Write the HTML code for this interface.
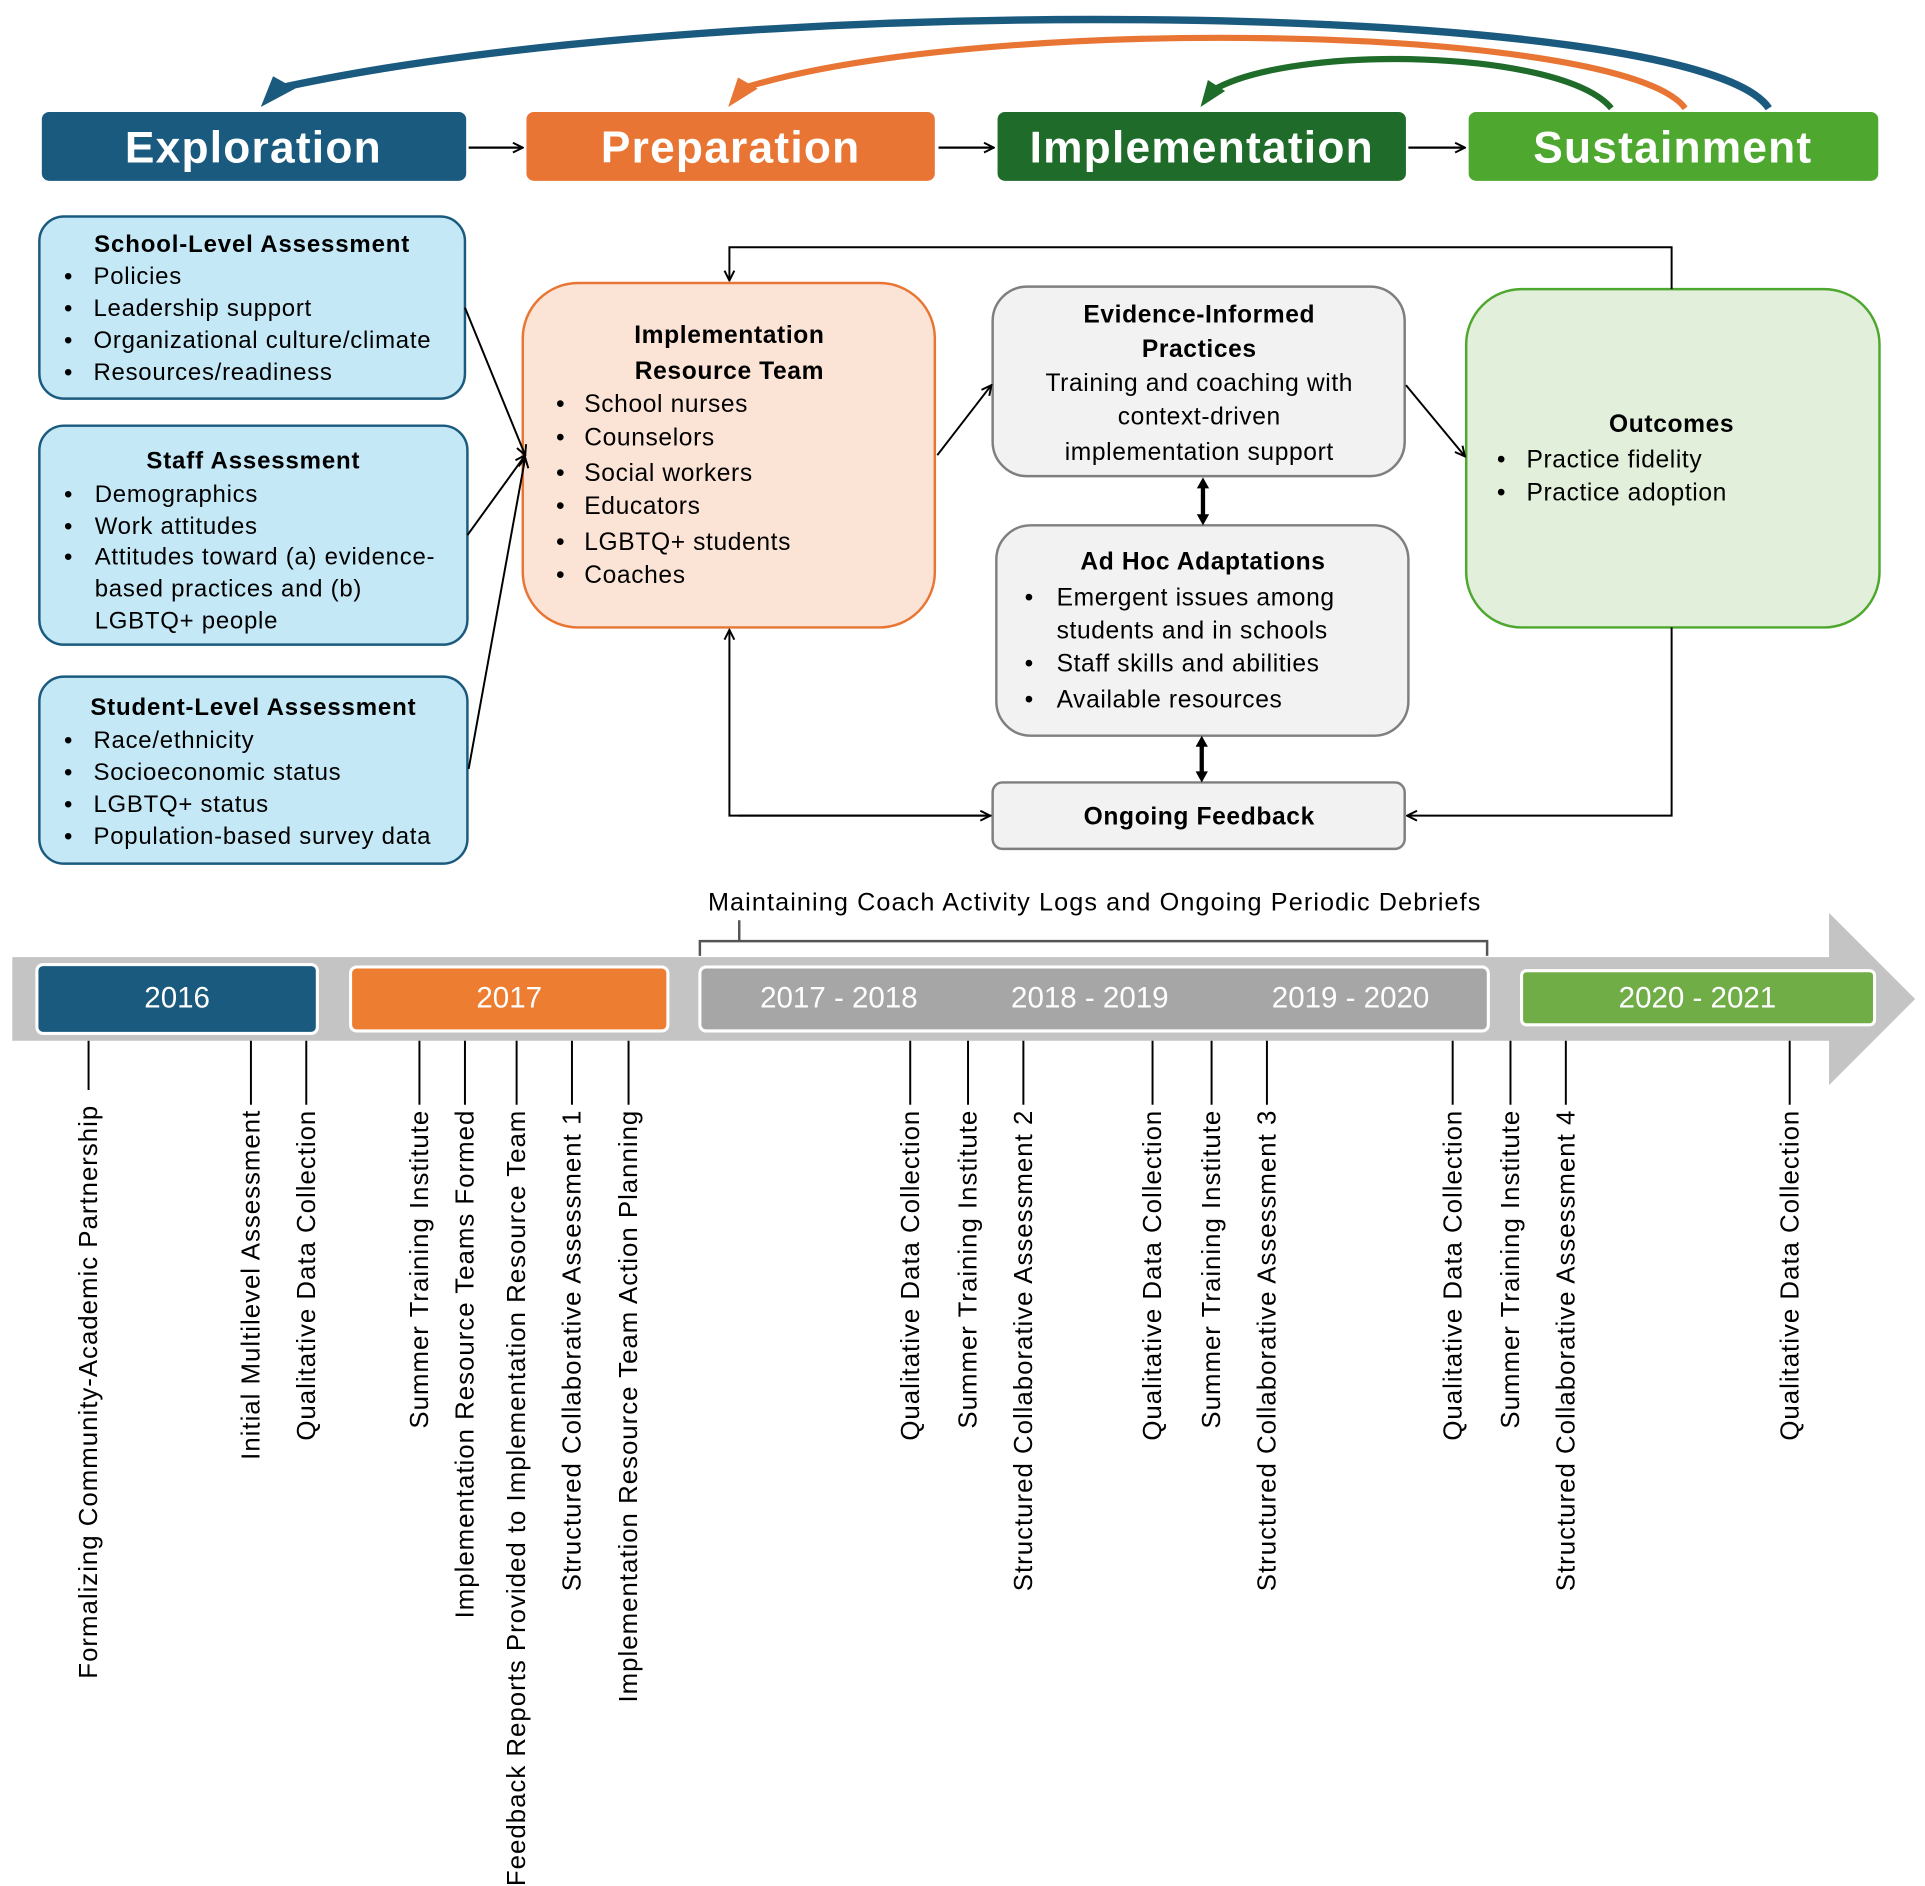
<!DOCTYPE html>
<html><head><meta charset="utf-8"><style>
html,body{margin:0;padding:0;background:#fff;}
svg{display:block;}
text{font-family:"Liberation Sans",sans-serif;}
</style></head><body>
<svg width="1925" height="1886" viewBox="0 0 1565 1533" preserveAspectRatio="none" xmlns="http://www.w3.org/2000/svg">
<defs>
<marker id="ah" markerWidth="10" markerHeight="10" refX="9" refY="5" orient="auto" markerUnits="userSpaceOnUse"><path d="M1,1 L9,5 L1,9" fill="none" stroke="#000" stroke-width="1.6"/></marker>
</defs>
<!-- curved arrows -->
<path d="M1438,88 C1380,0 600,-10 225,72" fill="none" stroke="#1a5a7e" stroke-width="6"/>
<path d="M212,87 L222,62 L240,72 z" fill="#1a5a7e"/>
<path d="M1370,88 C1320,20 800,10 603,72" fill="none" stroke="#e87533" stroke-width="5"/>
<path d="M592,87 L600,63 L616,72 z" fill="#e87533"/>
<path d="M1310,88 C1270,40 1050,35 985,74" fill="none" stroke="#1e6b2a" stroke-width="5"/>
<path d="M976,87 L982,65 L996,74 z" fill="#1e6b2a"/>
<!-- phase boxes -->
<rect x="34" y="91" width="345" height="56" rx="6" fill="#1a5a7e"/>
<rect x="428" y="91" width="332" height="56" rx="6" fill="#e87533"/>
<rect x="811" y="91" width="332" height="56" rx="6" fill="#1e6b2a"/>
<rect x="1194" y="91" width="333" height="56" rx="6" fill="#4ea72e"/>
<g fill="#fff" font-size="36" font-weight="bold" text-anchor="middle" letter-spacing="1">
<text x="206" y="132">Exploration</text>
<text x="594" y="132">Preparation</text>
<text x="977" y="132">Implementation</text>
<text x="1360" y="132">Sustainment</text>
</g>
<g stroke="#000" stroke-width="1.8" marker-end="url(#ah)">
<line x1="381" y1="120" x2="425" y2="120"/>
<line x1="763" y1="120" x2="808" y2="120"/>
<line x1="1145" y1="120" x2="1191" y2="120"/>
</g>
<!-- left boxes -->
<g fill="#c5e8f6" stroke="#1a5a7e" stroke-width="2">
<rect x="32" y="176" width="346" height="148" rx="20"/>
<rect x="32" y="346" width="348" height="178" rx="20"/>
<rect x="32" y="550" width="348" height="152" rx="20"/>
</g>
<g font-size="19.5" fill="#000" letter-spacing="0.6">
<text x="205" y="205" text-anchor="middle" font-weight="bold" letter-spacing="0.7">School-Level Assessment</text>
<text x="52" y="231">•</text><text x="76" y="231">Policies</text>
<text x="52" y="257">•</text><text x="76" y="257">Leadership support</text>
<text x="52" y="283">•</text><text x="76" y="283">Organizational culture/climate</text>
<text x="52" y="309">•</text><text x="76" y="309">Resources/readiness</text>
<text x="206" y="381" text-anchor="middle" font-weight="bold" letter-spacing="0.7">Staff Assessment</text>
<text x="52" y="408">•</text><text x="77" y="408">Demographics</text>
<text x="52" y="434">•</text><text x="77" y="434">Work attitudes</text>
<text x="52" y="459">•</text><text x="77" y="459">Attitudes toward (a) evidence-</text>
<text x="77" y="485">based practices and (b)</text>
<text x="77" y="511">LGBTQ+ people</text>
<text x="206" y="581" text-anchor="middle" font-weight="bold" letter-spacing="0.7">Student-Level Assessment</text>
<text x="52" y="608">•</text><text x="76" y="608">Race/ethnicity</text>
<text x="52" y="634">•</text><text x="76" y="634">Socioeconomic status</text>
<text x="52" y="660">•</text><text x="76" y="660">LGBTQ+ status</text>
<text x="52" y="686">•</text><text x="76" y="686">Population-based survey data</text>
</g>
<!-- center boxes -->
<rect x="425" y="230" width="335" height="280" rx="45" fill="#fbe4d6" stroke="#e87533" stroke-width="2"/>
<rect x="807" y="233" width="335" height="154" rx="28" fill="#f2f2f2" stroke="#7f7f7f" stroke-width="2"/>
<rect x="810" y="427" width="335" height="171" rx="28" fill="#f2f2f2" stroke="#7f7f7f" stroke-width="2"/>
<rect x="807" y="636" width="335" height="54" rx="8" fill="#f2f2f2" stroke="#7f7f7f" stroke-width="2"/>
<rect x="1192" y="235" width="336" height="275" rx="45" fill="#e2efda" stroke="#4ea72e" stroke-width="2"/>
<g font-size="20" fill="#000" letter-spacing="0.5">
<text x="593" y="279" text-anchor="middle" font-weight="bold">Implementation</text>
<text x="593" y="308" text-anchor="middle" font-weight="bold">Resource Team</text>
<text x="452" y="335">•</text><text x="475" y="335">School nurses</text>
<text x="452" y="362">•</text><text x="475" y="362">Counselors</text>
<text x="452" y="391">•</text><text x="475" y="391">Social workers</text>
<text x="452" y="418">•</text><text x="475" y="418">Educators</text>
<text x="452" y="447">•</text><text x="475" y="447">LGBTQ+ students</text>
<text x="452" y="474">•</text><text x="475" y="474">Coaches</text>
<text x="975" y="262" text-anchor="middle" font-weight="bold">Evidence-Informed</text>
<text x="975" y="290" text-anchor="middle" font-weight="bold">Practices</text>
<text x="975" y="318" text-anchor="middle">Training and coaching with</text>
<text x="975" y="345" text-anchor="middle">context-driven</text>
<text x="975" y="374" text-anchor="middle">implementation support</text>
<text x="978" y="463" text-anchor="middle" font-weight="bold">Ad Hoc Adaptations</text>
<text x="833" y="492">•</text><text x="859" y="492">Emergent issues among</text>
<text x="859" y="519">students and in schools</text>
<text x="833" y="546">•</text><text x="859" y="546">Staff skills and abilities</text>
<text x="833" y="575">•</text><text x="859" y="575">Available resources</text>
<text x="975" y="670" text-anchor="middle" font-weight="bold">Ongoing Feedback</text>
<text x="1359" y="351" text-anchor="middle" font-weight="bold">Outcomes</text>
<text x="1217" y="380">•</text><text x="1241" y="380">Practice fidelity</text>
<text x="1217" y="407">•</text><text x="1241" y="407">Practice adoption</text>
</g>
<!-- connectors -->
<g stroke="#000" stroke-width="1.6" fill="none">
<line x1="378" y1="250" x2="427" y2="370" marker-end="url(#ah)"/>
<line x1="380" y1="435" x2="427" y2="370" marker-end="url(#ah)"/>
<line x1="381" y1="625" x2="427" y2="372" marker-end="url(#ah)"/>
<line x1="762" y1="370" x2="806" y2="313" marker-end="url(#ah)"/>
<line x1="1143" y1="313" x2="1191" y2="371" marker-end="url(#ah)"/>
<polyline points="1359,235 1359,201 593,201 593,228" marker-end="url(#ah)"/>
<polyline points="806,663 593,663 593,512" marker-end="url(#ah)"/>
<line x1="600" y1="663" x2="805" y2="663" marker-end="url(#ah)"/>
<polyline points="1359,510 1359,663 1144,663" marker-end="url(#ah)"/>
</g>
<g stroke="#000" stroke-width="3.5">
<line x1="978" y1="394" x2="978" y2="420"/>
<line x1="977" y1="604" x2="977" y2="629"/>
</g>
<g fill="#000">
<path d="M978,388 L973,397 L983,397 z"/><path d="M978,427 L973,418 L983,418 z"/>
<path d="M977,598 L972,607 L982,607 z"/><path d="M977,636 L972,627 L982,627 z"/>
</g>
<!-- timeline -->
<text x="890" y="740" text-anchor="middle" font-size="20.5" letter-spacing="0.9">Maintaining  Coach Activity Logs and Ongoing Periodic Debriefs</text>
<polyline points="569,777 569,765 1209,765 1209,777" fill="none" stroke="#555" stroke-width="2"/>
<line x1="601" y1="748" x2="601" y2="765" stroke="#555" stroke-width="2"/>
<path d="M10,778 L1487,778 L1487,742 L1557,812 L1487,882 L1487,846 L10,846 z" fill="#c4c4c4"/>
<rect x="30" y="784" width="228" height="56" rx="5" fill="#1a5a7e" stroke="#fff" stroke-width="2.5"/>
<rect x="285" y="786" width="258" height="52" rx="5" fill="#ed7d31" stroke="#fff" stroke-width="2.5"/>
<rect x="569" y="786" width="641" height="52" rx="5" fill="#a6a6a6" stroke="#fff" stroke-width="2.5"/>
<rect x="1237" y="789" width="287" height="44" rx="4" fill="#70ad47" stroke="#fff" stroke-width="2.5"/>
<g fill="#fff" font-size="24" text-anchor="middle">
<text x="144" y="819">2016</text>
<text x="414" y="819">2017</text>
<text x="682" y="819">2017 - 2018</text>
<text x="886" y="819">2018 - 2019</text>
<text x="1098" y="819">2019 - 2020</text>
<text x="1380" y="819">2020 - 2021</text>
</g>
<g stroke="#000" stroke-width="1.6">
<line x1="72" y1="846" x2="72" y2="886"/>
<line x1="204" y1="846" x2="204" y2="898"/>
<line x1="249" y1="846" x2="249" y2="898"/>
<line x1="341" y1="846" x2="341" y2="898"/>
<line x1="378" y1="846" x2="378" y2="898"/>
<line x1="420" y1="846" x2="420" y2="898"/>
<line x1="465" y1="846" x2="465" y2="898"/>
<line x1="511" y1="846" x2="511" y2="898"/>
<line x1="740" y1="846" x2="740" y2="898"/>
<line x1="787" y1="846" x2="787" y2="898"/>
<line x1="832" y1="846" x2="832" y2="898"/>
<line x1="937" y1="846" x2="937" y2="898"/>
<line x1="985" y1="846" x2="985" y2="898"/>
<line x1="1030" y1="846" x2="1030" y2="898"/>
<line x1="1181" y1="846" x2="1181" y2="898"/>
<line x1="1228" y1="846" x2="1228" y2="898"/>
<line x1="1273" y1="846" x2="1273" y2="898"/>
<line x1="1455" y1="846" x2="1455" y2="898"/>
</g>
<g font-size="21" fill="#000" text-anchor="end" letter-spacing="0.8">
<text transform="translate(79,898) rotate(-90)">Formalizing Community-Academic Partnership</text>
<text transform="translate(211,902) rotate(-90)">Initial Multilevel Assessment</text>
<text transform="translate(256,902) rotate(-90)">Qualitative Data Collection</text>
<text transform="translate(348,902) rotate(-90)">Summer Training Institute</text>
<text transform="translate(385,902) rotate(-90)">Implementation Resource Teams Formed</text>
<text transform="translate(427,902) rotate(-90)">Feedback Reports Provided to Implementation Resource Team</text>
<text transform="translate(472,902) rotate(-90)">Structured Collaborative Assessment 1</text>
<text transform="translate(518,902) rotate(-90)">Implementation Resource Team Action Planning</text>
<text transform="translate(747,902) rotate(-90)">Qualitative Data Collection</text>
<text transform="translate(794,902) rotate(-90)">Summer Training Institute</text>
<text transform="translate(839,902) rotate(-90)">Structured Collaborative Assessment 2</text>
<text transform="translate(944,902) rotate(-90)">Qualitative Data Collection</text>
<text transform="translate(992,902) rotate(-90)">Summer Training Institute</text>
<text transform="translate(1037,902) rotate(-90)">Structured Collaborative Assessment 3</text>
<text transform="translate(1188,902) rotate(-90)">Qualitative Data Collection</text>
<text transform="translate(1235,902) rotate(-90)">Summer Training Institute</text>
<text transform="translate(1280,902) rotate(-90)">Structured Collaborative Assessment 4</text>
<text transform="translate(1462,902) rotate(-90)">Qualitative Data Collection</text>
</g>
</svg>
</body></html>
